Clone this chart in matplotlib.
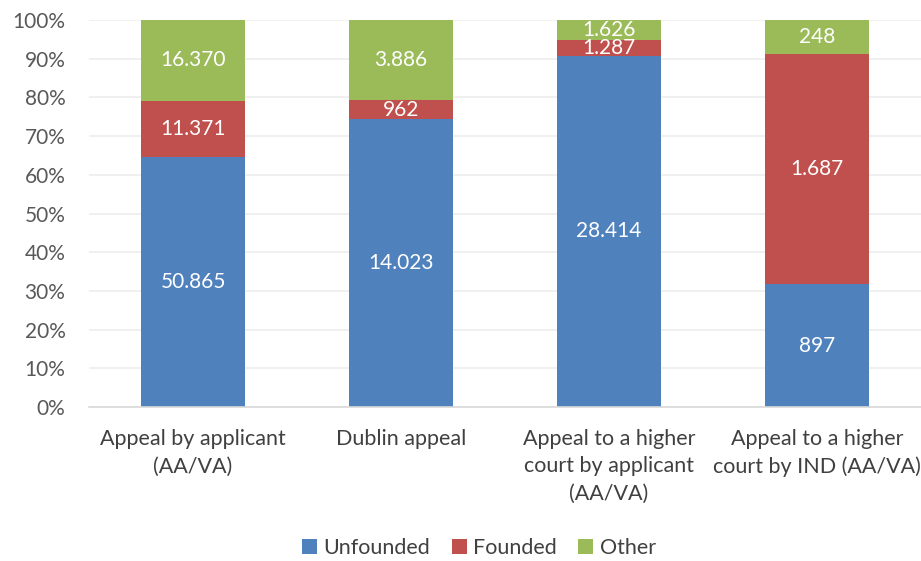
import matplotlib.pyplot as plt
import numpy as np
from matplotlib.ticker import PercentFormatter

plt.rcParams['font.family'] = ['Lato', 'DejaVu Sans']

# Data
categories = ['Appeal by applicant\n(AA/VA)', 'Dublin appeal',
              'Appeal to a higher\ncourt by applicant\n(AA/VA)',
              'Appeal to a higher\ncourt by IND (AA/VA)']
unfounded = [50865, 14023, 28414, 897]
founded = [11371, 962, 1287, 1687]
other = [16370, 3886, 1626, 248]

series = [('Unfounded', unfounded, '#4F81BD'),
          ('Founded', founded, '#C0504D'),
          ('Other', other, '#9BBB59')]

totals = np.array(unfounded) + np.array(founded) + np.array(other)

fig = plt.figure(figsize=(9.21, 5.61), dpi=100)
ax = fig.add_axes([89 / 921, 1 - 407 / 561, 832 / 921, 387 / 561])

x = np.arange(len(categories))
bottom = np.zeros(len(categories))
for name, vals, color in series:
    share = np.array(vals) / totals * 100
    ax.bar(x, share, width=0.5, bottom=bottom, color=color, label=name,
           zorder=2)
    for xi, b, s, v in zip(x, bottom, share, vals):
        ax.text(xi, b + s / 2, f'{v:,}'.replace(',', '.'), ha='center',
                va='center', color='white', fontsize=15, zorder=3)
    bottom += share

ax.set_xlim(-0.5, 3.5)
ax.set_ylim(0, 100)
ax.set_yticks(np.arange(0, 101, 10))
ax.yaxis.set_major_formatter(PercentFormatter(decimals=0))
ax.set_xticks(x)
ax.set_xticklabels(categories, fontsize=15.5, color='#404040', va='top',
                   linespacing=1.45)
ax.tick_params(axis='y', labelsize=15, labelcolor='#595959', length=0, pad=17)
ax.tick_params(axis='x', length=0, pad=16)
ax.grid(axis='y', color='#EDEDED', linewidth=1.2, zorder=0)
for side in ['top', 'right', 'left']:
    ax.spines[side].set_visible(False)
ax.spines['bottom'].set_color('#D9D9D9')
ax.spines['bottom'].set_linewidth(1.2)

fig.legend(loc='lower center', bbox_to_anchor=(0.52, -0.03), ncol=3,
           frameon=False, fontsize=15.5, handlelength=0.7, handleheight=0.7,
           handletextpad=0.3, columnspacing=1.0, labelcolor='#404040')

fig.savefig('out.png', dpi=100)
